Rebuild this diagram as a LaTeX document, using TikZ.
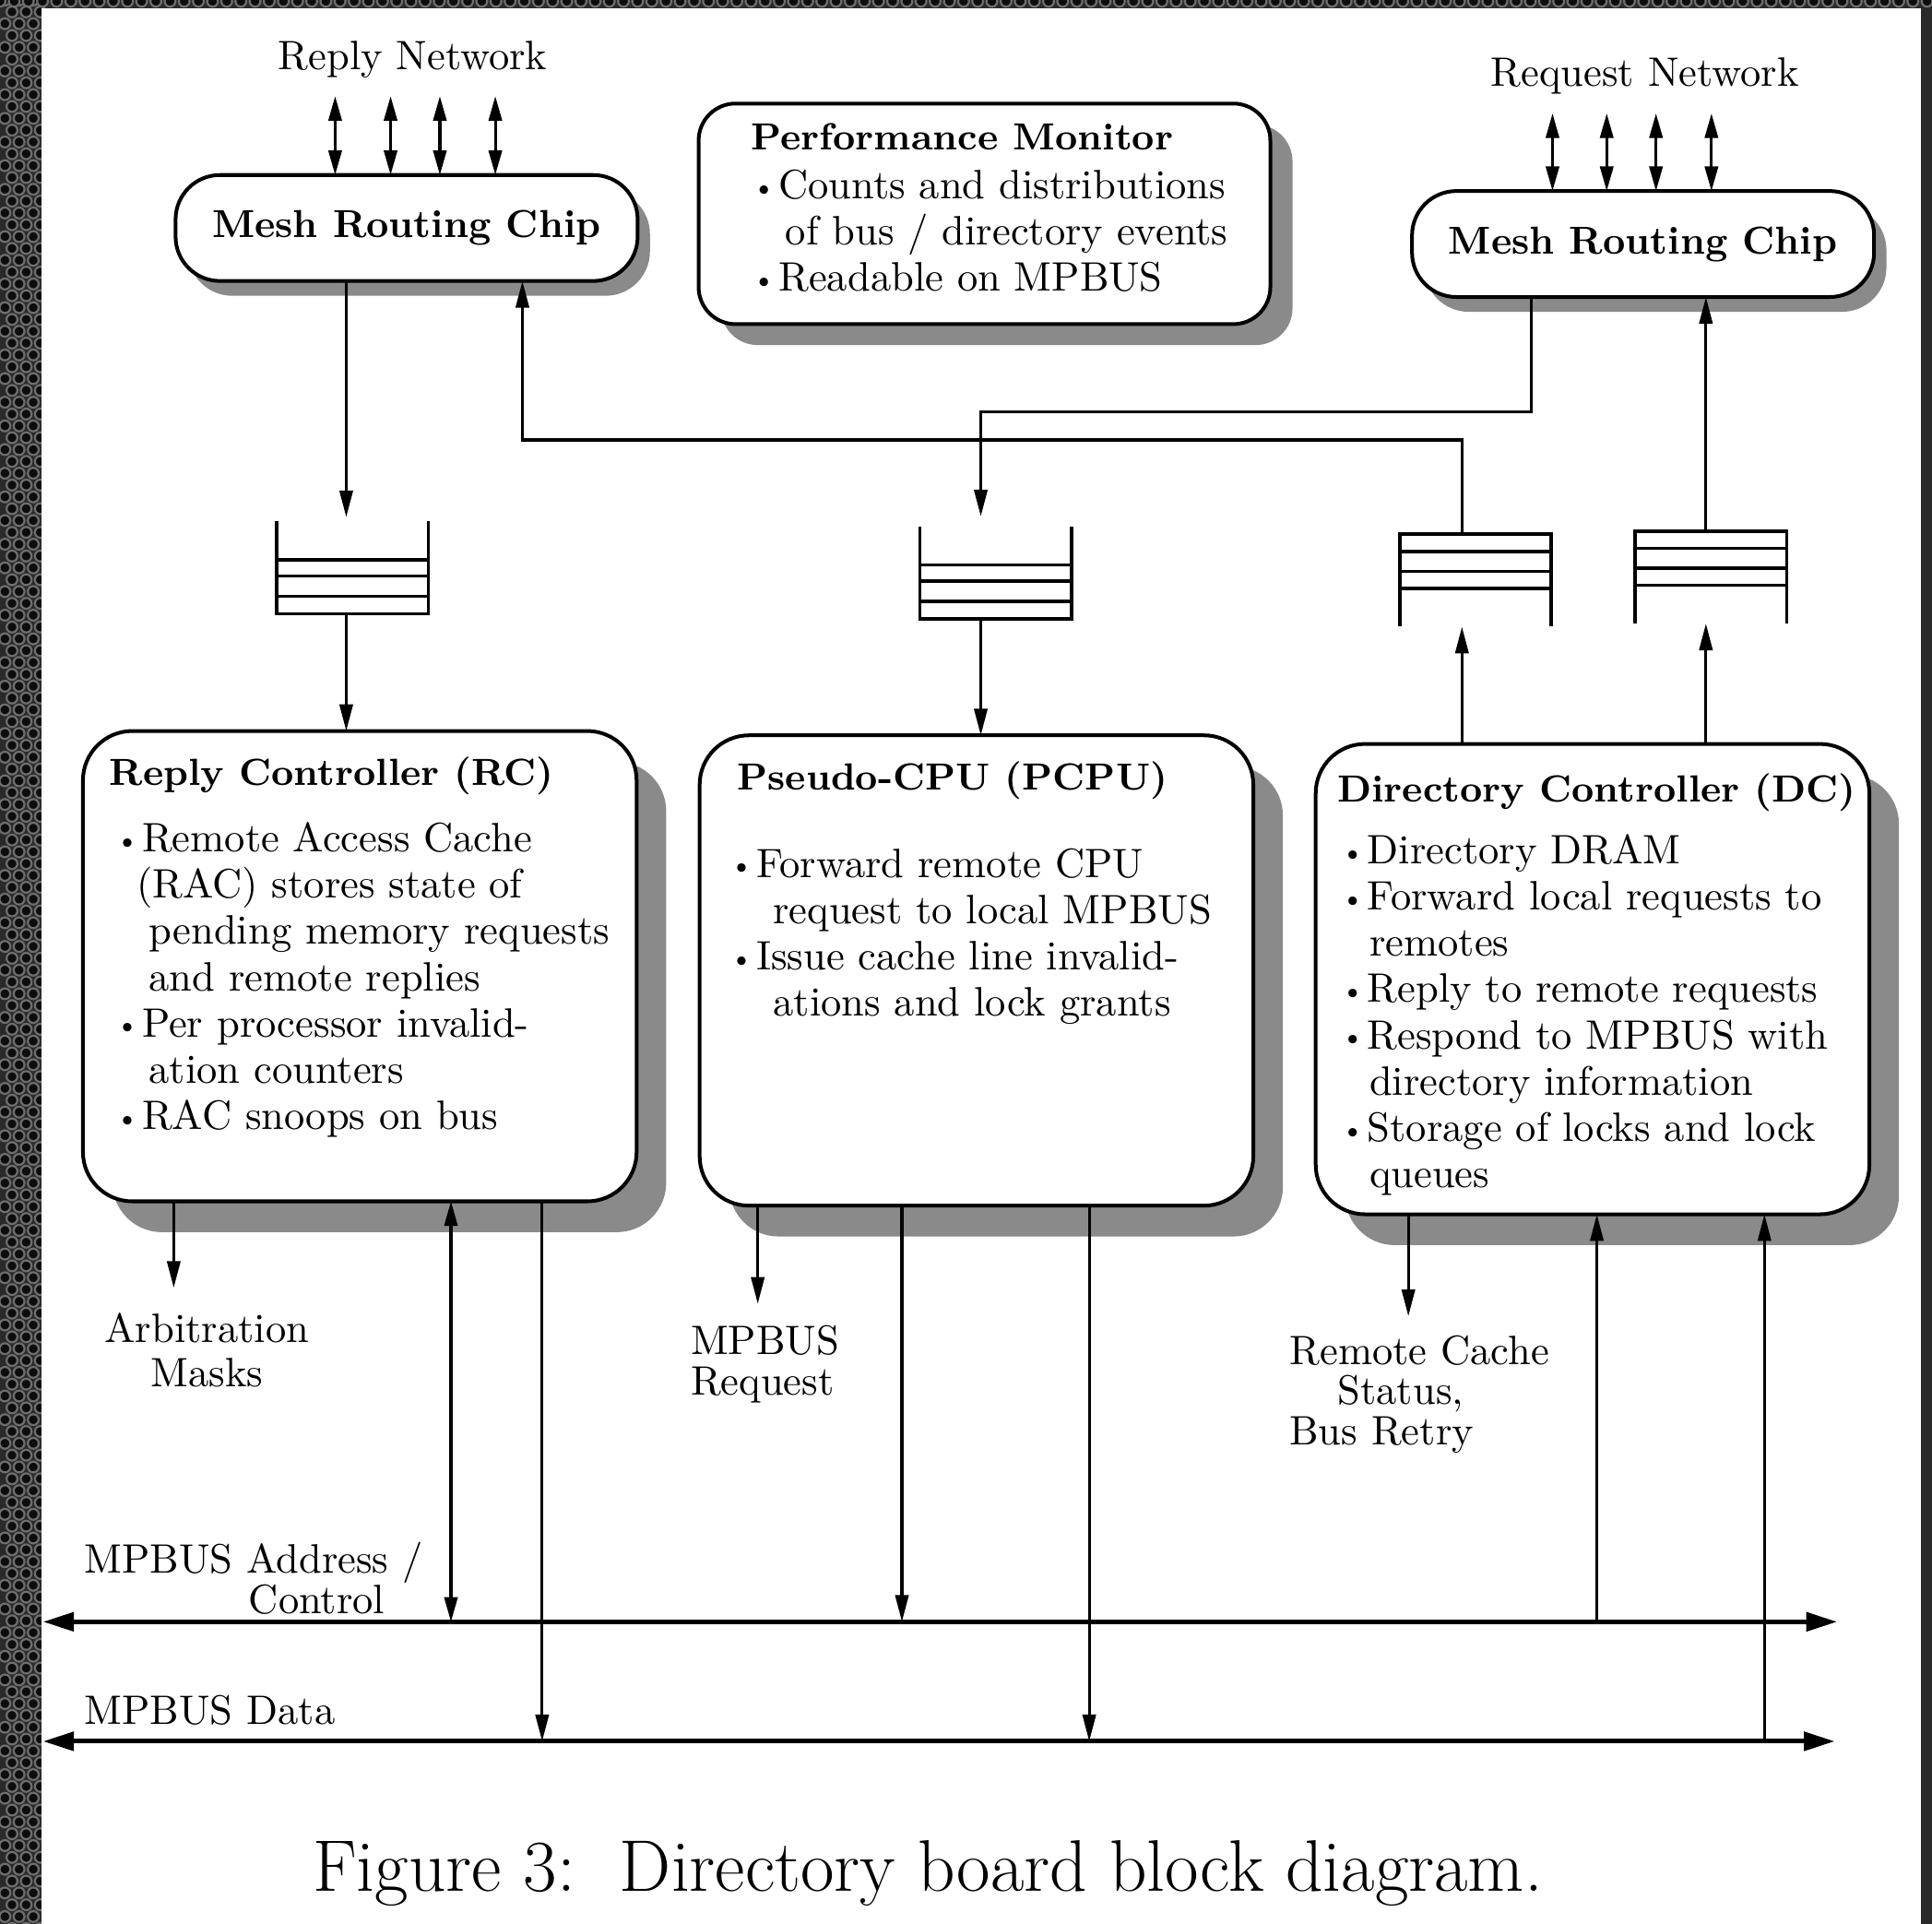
\documentclass[tikz,border=0pt]{standalone}
\usetikzlibrary{arrows.meta,shadows,calc}
\definecolor{panel}{HTML}{2A2A2A}
\definecolor{hole}{HTML}{0D0D0D}
\definecolor{rim}{HTML}{6E6E6E}
\definecolor{shade}{HTML}{8A8A8A}
\newcommand\itembul{\makebox[6.4pt][l]{\raisebox{0.5pt}{\scalebox{0.72}{\textbullet}}}}
\newcommand\btitle[1]{{\fontsize{9.2}{11.25}\selectfont\bfseries #1}}
\newcommand\firststrut{\rule{0pt}{8pt}}
% FIFO open at the top: walls, floor and three slot lines
\newcommand\fifoopen[1]{%
  \draw[fifoline] (#1.north west) -- (#1.south west) -- (#1.south east) -- (#1.north east);
  \foreach \h in {4.2pt,9.2pt,13.1pt}
    \draw[fifoline] ([yshift=\h]#1.south west) -- ([yshift=\h]#1.south east);}
% FIFO open at the bottom: lid, walls and three slot lines
\newcommand\fifoclosed[1]{%
  \draw[fifoline] (#1.south west) -- (#1.north west) -- (#1.north east) -- (#1.south east);
  \foreach \h in {4.2pt,9pt,13.2pt}
    \draw[fifoline] ([yshift=-\h]#1.north west) -- ([yshift=-\h]#1.north east);}
\tikzset{
  boxline/.style={draw, line width=0.9pt, fill=white, inner sep=0pt, outer sep=0pt},
  chip/.style={boxline, rounded corners=10.8pt, minimum width=112.5pt, minimum height=25.8pt,
    font=\fontsize{9.5}{11}\selectfont\bfseries,
    drop shadow={shadow xshift=3pt, shadow yshift=-3.6pt, fill=shade, opacity=1}},
  unit/.style={boxline, rounded corners=12pt, minimum width=134.8pt, minimum height=114.5pt,
    drop shadow={shadow xshift=7.2pt, shadow yshift=-7.5pt, fill=shade, opacity=1}},
  monitor/.style={boxline, rounded corners=9pt, minimum width=139.2pt, minimum height=53.7pt,
    drop shadow={shadow xshift=5.4pt, shadow yshift=-5.1pt, fill=shade, opacity=1}},
  txt/.style={inner sep=0pt, align=left, anchor=north west},
  fifo/.style={minimum width=36.9pt, minimum height=22.5pt, inner sep=0pt, outer sep=0pt},
  fifoline/.style={line width=0.8pt},
  arr/.style={line width=0.7pt, -{Triangle[length=6.5pt,width=3.2pt]}},
  dblarr/.style={line width=0.7pt, {Triangle[length=6pt,width=3.2pt]}-{Triangle[length=6pt,width=3.2pt]}},
  bus/.style={line width=1.1pt, {Triangle[length=7.5pt,width=4.5pt]}-{Triangle[length=7.5pt,width=4.5pt]}},
}
\begin{document}
\begin{tikzpicture}[x=0.3pt,y=-0.3pt,font=\fontsize{10}{11.25}\selectfont]
\useasboundingbox (0,0) rectangle (1568,1561);

% perforated dark frame
\fill[panel] (0,0) rectangle (1568,1561);
\foreach \r in {0,...,165}{
  \pgfmathtruncatemacro\odd{mod(\r,2)}
  \foreach \j in {0,1,2}
    \filldraw[fill=hole, draw=rim, line width=0.5pt] (\j*11.5+\odd*5.75+4, \r*9.6) circle[radius=4.4];
}
\foreach \j in {0,...,137}
  \filldraw[fill=hole, draw=rim, line width=0.5pt] (\j*11.5, 1) circle[radius=4.4];
\fill[white] (34,7) rectangle (1559,1561);

% network labels
\node (replynet) at (335,48) {Reply Network};
\node (reqnet) at (1335,62) {Request Network};

% routing chips and monitor
\node[chip] (mrcL) at (330,185) {Mesh Routing Chip};
\node[chip] (mrcR) at (1333.5,198) {Mesh Routing Chip};
\node[monitor] (perf) at (799,173.5) {};
\node[txt] (perftext) at ([xshift=12.6pt,yshift=-3pt]perf.north west)
  {\firststrut\btitle{Performance Monitor}\\[0.75pt]
   \hspace*{0.3pt}\itembul Counts and distributions\\
   \hspace*{8.4pt}of bus / directory events\\
   \hspace*{0.3pt}\itembul Readable on MPBUS};

% controllers
\node[unit] (rc) at (292,784) {};
\node[unit] (pcpu) at (792.5,787.5) {};
\node[unit] (dc) at (1292.5,794.5) {};

\node[txt] (rctext) at ([xshift=6.3pt,yshift=-5.1pt]rc.north west)
  {\firststrut\btitle{Reply Controller (RC)}\\[4.9pt]
   \hspace*{1.5pt}\itembul Remote Access Cache\\
   \hspace*{6.6pt}(RAC) stores state of\\
   \hspace*{9.6pt}pending memory requests\\
   \hspace*{9.6pt}and remote replies\\
   \hspace*{1.5pt}\itembul Per processor invalid-\\
   \hspace*{9.6pt}ation counters\\
   \hspace*{1.5pt}\itembul RAC snoops on bus};

\node[txt] (pcputext) at ([xshift=7.2pt,yshift=-5.1pt]pcpu.north west)
  {\firststrut\hspace*{1.8pt}\btitle{Pseudo-CPU (PCPU)}\\[10pt]
   \itembul Forward remote CPU\\
   \hspace*{10.5pt}request to local MPBUS\\
   \itembul Issue cache line invalid-\\
   \hspace*{10.5pt}ations and lock grants};

\node[txt] (dctext) at ([xshift=5.1pt,yshift=-6pt]dc.north west)
  {\firststrut\btitle{Directory Controller (DC)}\\[3.75pt]
   \hspace*{0.9pt}\itembul Directory DRAM\\
   \hspace*{0.9pt}\itembul Forward local requests to\\
   \hspace*{7.8pt}remotes\\
   \hspace*{0.9pt}\itembul Reply to remote requests\\
   \hspace*{0.9pt}\itembul Respond to MPBUS with\\
   \hspace*{7.8pt}directory information\\
   \hspace*{0.9pt}\itembul Storage of locks and lock\\
   \hspace*{7.8pt}queues};

% FIFO queues
\node[fifo] (f1) at (286,460.5) {};
\node[fifo] (f2) at (808,464.5) {};
\node[fifo] (f3) at (1197.5,471) {};
\node[fifo] (f4) at (1388.5,468.5) {};
\fifoopen{f1}
\fifoopen{f2}
\fifoclosed{f3}
\fifoclosed{f4}
\coordinate (f1top) at ([xshift=-1.5pt]f1.north);
\coordinate (f1bot) at ([xshift=-1.5pt]f1.south);
\coordinate (f2top) at ([xshift=-3.6pt]f2.north);
\coordinate (f2bot) at ([xshift=-3.6pt]f2.south);
\coordinate (f3top) at ([xshift=-3.3pt]f3.north);
\coordinate (f3bot) at ([xshift=-3.3pt]f3.south);
\coordinate (f4top) at ([xshift=-1.2pt]f4.north);
\coordinate (f4bot) at ([xshift=-1.2pt]f4.south);

% network ports
\foreach \n/\x in {1/272,2/317,3/357,4/402}
  \coordinate (rn\n) at (\x,78);
\foreach \n/\x in {1/1260,2/1304,3/1344,4/1389}
  \coordinate (qn\n) at (\x,92);
\foreach \n in {1,...,4}{
  \draw[dblarr] (rn\n) -- (rn\n |- mrcL.north);
  \draw[dblarr] (qn\n) -- (qn\n |- mrcR.north);
}

% queue connections
\draw[arr] (f1top |- mrcL.south) -- ([yshift=1pt]f1top);
\draw[arr] (f1bot) -- (f1bot |- rc.north);
\draw[arr] (f2bot) -- (f2bot |- pcpu.north);
\coordinate (rqturn) at (1243,334);
\draw[arr] (rqturn |- mrcR.south) -- (rqturn) -| ([yshift=2.4pt]f2top);
\coordinate (rpturn) at (424,357);
\draw[arr] (f3top) |- (rpturn) -- (rpturn |- mrcL.south);
\draw[arr] (f3bot |- dc.north) -- (f3bot);
\draw[arr] (f4bot |- dc.north) -- (f4bot);
\draw[arr] (f4top) -- (f4top |- mrcR.south);

% MPBUS lines
\coordinate (abL) at (35,1316);
\coordinate (abR) at (1491,1316);
\coordinate (dbL) at (35,1413);
\coordinate (dbR) at (1489,1413);
\draw[bus] (abL) -- (abR);
\draw[bus] (dbL) -- (dbR);

% bus taps and side signals
\coordinate (amEnd) at (141,1045);
\coordinate (ab1) at (366,1316);
\coordinate (db1) at (440,1413);
\coordinate (mrEnd) at (615,1058);
\coordinate (ab2) at (732,1316);
\coordinate (db2) at (884,1413);
\coordinate (rcEnd) at (1143,1068);
\coordinate (ab3) at (1296,1316);
\coordinate (db3) at (1432,1413);
\draw[arr] (amEnd |- rc.south) -- (amEnd);
\draw[dblarr] (ab1 |- rc.south) -- (ab1);
\draw[arr] (db1 |- rc.south) -- (db1);
\draw[arr] (mrEnd |- pcpu.south) -- (mrEnd);
\draw[arr] (ab2 |- pcpu.south) -- (ab2);
\draw[arr] (db2 |- pcpu.south) -- (db2);
\draw[arr] (rcEnd |- dc.south) -- (rcEnd);
\draw[arr] (ab3) -- (ab3 |- dc.south);
\draw[arr] (db3) -- (db3 |- dc.south);

% signal labels
\node[txt, anchor=north, align=center] (arb) at (168,1062) {\firststrut Arbitration\\[-0.45pt]Masks};
\node[txt] (mpreq) at (560,1072) {\firststrut MPBUS\\[-1.35pt]Request};
\node[txt] (rcstat) at (1046,1080) {\firststrut Remote Cache\\[-1.5pt]\hspace*{11.7pt}Status,\\[-1.5pt]Bus Retry};
\node[txt] (addrlbl) at (68,1249) {\firststrut MPBUS Address /\\[-1.35pt]\hspace*{40pt}Control};
\node[txt] (datalbl) at (68,1372) {\firststrut MPBUS Data};

% caption
\node[font=\fontsize{17.8}{20}\selectfont] (caption) at (753,1520) {Figure 3:\ \ Directory board block diagram.};
\end{tikzpicture}
\end{document}
